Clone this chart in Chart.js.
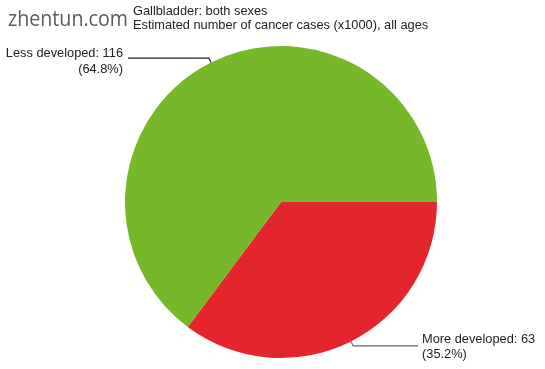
<!DOCTYPE html>
<html>
<head>
<meta charset="utf-8">
<script src="https://cdn.jsdelivr.net/npm/chart.js@4.4.1/dist/chart.umd.min.js"></script>
<style>
  html, body { margin: 0; padding: 0; background: #fff; }
  #wrap { position: relative; width: 545px; height: 369px; }
</style>
</head>
<body>
<div id="wrap"><canvas id="pieChart" width="545" height="369"></canvas></div>
<script>
const categories = ['More developed', 'Less developed'];
const cases = [63, 116];
const sliceColors = ['#e3262e', '#77b82a'];
const titleLines = ['Gallbladder: both sexes', 'Estimated number of cancer cases (x1000), all ages'];

const total = cases.reduce((a, b) => a + b, 0);

// labels with elbow lines, like the original
const calloutPlugin = {
    id: 'callouts',
    afterDatasetsDraw(chart) {
        const ctx = chart.ctx;
        const meta = chart.getDatasetMeta(0);
        ctx.save();
        ctx.font = '12.8px "Liberation Sans", Arial, sans-serif';
        meta.data.forEach((arc, i) => {
            const mid = (arc.startAngle + arc.endAngle) / 2;
            const r = arc.outerRadius;
            const px = arc.x + Math.cos(mid) * r;
            const py = arc.y + Math.sin(mid) * r;
            const ex = arc.x + Math.cos(mid) * (r + 5);
            const ey = arc.y + Math.sin(mid) * (r + 5);
            const left = Math.cos(mid) < 0;
            const endX = left ? 128 : 418;
            ctx.strokeStyle = left ? '#222' : '#666';
            ctx.lineWidth = 1.2;
            ctx.beginPath();
            ctx.moveTo(px, py);
            ctx.lineTo(ex, ey);
            ctx.lineTo(endX, ey);
            ctx.stroke();

            const pct = (cases[i] / total * 100).toFixed(1);
            ctx.fillStyle = '#222';
            ctx.textBaseline = 'alphabetic';
            if (left) {
                ctx.textAlign = 'right';
                ctx.fillText(categories[i] + ': ' + cases[i], 123, ey - 1);
                ctx.fillText('(' + pct + '%)', 123, ey + 15);
            } else {
                ctx.textAlign = 'left';
                ctx.fillText(categories[i] + ': ' + cases[i], 422, ey - 3);
                ctx.fillText('(' + pct + '%)', 422, ey + 12);
            }
        });

        ctx.textAlign = 'left';
        ctx.fillStyle = '#222';
        ctx.fillText(titleLines[0], 133, 15);
        ctx.fillText(titleLines[1], 133, 29);

        ctx.fillStyle = '#5a5a5a';
        ctx.font = '21px "Open Sans", sans-serif';
        ctx.fillText('zhentun.com', 8, 26, 120);
        ctx.restore();
    }
};

const ctx = document.getElementById('pieChart').getContext('2d');
const pieChart = new Chart(ctx, {
    type: 'pie',
    data: {
        labels: categories,
        datasets: [{
            data: cases,
            backgroundColor: sliceColors,
            borderWidth: 0,
        }],
    },
    options: {
        responsive: false,
        animation: false,
        rotation: 90,
        layout: { padding: { left: 125, right: 108, top: 46, bottom: 11 } },
        plugins: {
            legend: { display: false },
            tooltip: { enabled: false },
        },
    },
    plugins: [calloutPlugin],
});
</script>
</body>
</html>
